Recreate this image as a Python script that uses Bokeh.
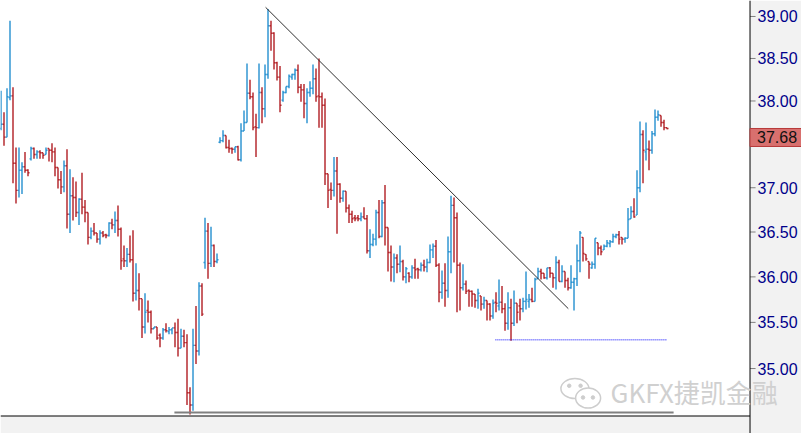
from bokeh.plotting import figure
from bokeh.models import Range1d, Label, BoxAnnotation, Span
from bokeh.core.properties import value
from bokeh.embed import file_html
from bokeh.resources import INLINE

# ---------------- data ----------------
open_ = [
37.68, 37.73, 37.58, 38.04, 38.06, 37.28, 36.97, 37.20, 37.24, 37.20,
37.33, 37.45, 37.38, 37.41, 37.40, 37.38, 37.45, 37.43, 37.41, 37.23,
37.09, 37.01, 37.25, 36.70, 36.91, 36.89, 36.72, 36.87, 36.78, 36.72,
36.44, 36.51, 36.49, 36.42, 36.49, 36.47, 36.46, 36.60, 36.58, 36.63,
36.53, 36.20, 36.18, 36.25, 36.19, 35.82, 35.85, 35.76, 35.45, 35.63,
35.61, 35.43, 35.45, 35.36, 35.33, 35.42, 35.40, 35.42, 35.44, 35.39,
35.22, 35.35, 35.28, 34.74, 34.61, 35.25, 35.19, 35.90, 36.16, 36.51,
36.15, 36.35, 36.17, 37.52, 37.54, 37.60, 37.46, 37.45, 37.44, 37.47,
37.32, 37.65, 37.75, 38.09, 38.05, 37.70, 37.69, 38.10, 37.91, 38.31,
38.89, 38.80, 38.45, 38.28, 38.01, 38.10, 38.17, 38.28, 38.31, 38.36,
38.16, 38.13, 37.97, 38.10, 38.15, 38.26, 38.06, 38.05, 37.95, 37.16,
36.98, 36.97, 37.19, 37.04, 36.88, 36.96, 36.77, 36.70, 36.66, 36.66,
36.65, 36.67, 36.65, 36.29, 36.36, 36.42, 36.72, 36.45, 36.83, 36.55,
36.27, 36.11, 36.21, 36.14, 36.17, 36.00, 36.04, 36.00, 36.10, 36.09,
36.08, 36.13, 36.11, 36.16, 36.30, 36.34, 36.13, 35.83, 35.93, 35.85,
36.28, 36.80, 36.66, 36.13, 35.88, 35.92, 35.85, 35.84, 35.81, 35.74,
35.79, 35.70, 35.74, 35.70, 35.57, 35.72, 35.68, 35.72, 35.65, 35.49,
35.66, 35.49, 35.71, 35.68, 35.65, 35.73, 35.73, 35.75, 35.73, 35.98,
36.06, 36.04, 35.99, 36.10, 36.04, 35.99, 36.16, 35.95, 36.06, 35.96,
35.88, 35.94, 35.98, 36.18, 36.44, 36.25, 36.17, 36.10, 36.14, 36.38,
36.32, 36.30, 36.34, 36.37, 36.39, 36.45, 36.47, 36.44, 36.42, 36.43,
36.65, 36.73, 36.69, 37.00, 37.61, 37.41, 37.44, 37.43, 37.62, 37.81,
37.83, 37.75, 37.69]

high = [
38.12, 37.87, 38.15, 38.95, 38.16, 37.46, 37.46, 37.29, 37.41, 37.21,
37.47, 37.46, 37.43, 37.43, 37.40, 37.46, 37.45, 37.51, 37.46, 37.23,
37.19, 37.31, 37.44, 37.21, 37.12, 37.07, 36.88, 37.17, 36.86, 36.72,
36.55, 36.60, 36.49, 36.52, 36.51, 36.48, 36.61, 36.65, 36.73, 36.80,
36.55, 36.35, 36.32, 36.46, 36.52, 36.15, 36.04, 35.76, 35.82, 35.74,
35.63, 35.45, 35.45, 35.38, 35.44, 35.49, 35.45, 35.44, 35.50, 35.54,
35.43, 35.42, 35.37, 34.80, 35.43, 35.68, 35.94, 35.93, 36.66, 36.60,
36.56, 36.36, 36.26, 37.58, 37.66, 37.60, 37.55, 37.46, 37.47, 37.48,
37.74, 37.89, 38.44, 38.25, 38.10, 37.85, 38.44, 38.16, 38.43, 39.09,
38.95, 38.81, 38.46, 38.41, 38.12, 38.17, 38.31, 38.32, 38.38, 38.43,
38.20, 38.20, 38.15, 38.23, 38.43, 38.38, 38.50, 38.10, 38.03, 37.16,
37.06, 37.35, 37.35, 37.05, 36.97, 36.96, 36.81, 36.74, 36.69, 36.69,
36.72, 36.78, 36.69, 36.53, 36.48, 36.75, 36.86, 36.86, 37.03, 36.55,
36.35, 36.26, 36.25, 36.35, 36.19, 36.11, 36.05, 36.13, 36.20, 36.10,
36.16, 36.19, 36.20, 36.36, 36.37, 36.41, 36.15, 36.07, 36.15, 36.45,
36.91, 36.89, 36.72, 36.16, 36.14, 35.96, 35.86, 35.85, 35.81, 35.87,
35.79, 35.78, 35.74, 35.71, 35.75, 35.83, 35.97, 35.90, 35.71, 35.83,
35.76, 35.85, 35.71, 35.76, 35.77, 36.06, 35.81, 35.88, 35.99, 36.10,
36.09, 36.04, 36.10, 36.11, 36.04, 36.23, 36.19, 36.13, 36.06, 35.99,
36.13, 35.99, 36.36, 36.51, 36.44, 36.25, 36.17, 36.17, 36.43, 36.38,
36.35, 36.36, 36.41, 36.41, 36.48, 36.48, 36.51, 36.44, 36.44, 36.77,
36.79, 36.88, 37.20, 37.76, 37.66, 37.75, 37.54, 37.65, 37.90, 37.89,
37.83, 37.78, 37.69]

low = [
37.66, 37.48, 37.58, 38.01, 37.05, 36.82, 36.89, 36.93, 37.17, 37.13,
37.31, 37.33, 37.33, 37.33, 37.33, 37.38, 37.30, 37.29, 37.13, 36.99,
36.93, 36.95, 36.54, 36.49, 36.63, 36.67, 36.58, 36.70, 36.61, 36.36,
36.42, 36.46, 36.38, 36.36, 36.44, 36.43, 36.45, 36.53, 36.49, 36.45,
36.08, 36.11, 36.11, 36.16, 35.73, 35.74, 35.63, 35.33, 35.38, 35.50,
35.38, 35.43, 35.31, 35.23, 35.31, 35.39, 35.37, 35.37, 35.23, 35.13,
35.22, 35.23, 34.61, 34.51, 34.55, 35.05, 35.14, 35.57, 36.09, 35.98,
36.11, 36.11, 36.15, 37.51, 37.52, 37.45, 37.40, 37.39, 37.40, 37.31,
37.30, 37.65, 37.75, 38.02, 37.66, 37.35, 37.68, 37.74, 37.81, 38.26,
38.59, 38.37, 38.24, 37.87, 37.99, 38.09, 38.15, 38.25, 38.25, 38.09,
37.99, 37.80, 37.74, 38.05, 38.08, 37.99, 37.69, 37.69, 37.03, 36.77,
36.86, 36.90, 36.48, 36.83, 36.84, 36.72, 36.60, 36.60, 36.62, 36.62,
36.62, 36.65, 36.26, 36.21, 36.34, 36.35, 36.43, 36.44, 36.35, 36.06,
35.95, 35.94, 36.04, 36.05, 35.96, 35.93, 35.94, 35.98, 35.98, 35.98,
36.06, 36.06, 36.05, 36.15, 36.21, 36.11, 35.72, 35.76, 35.67, 35.77,
36.04, 36.16, 35.61, 35.63, 35.85, 35.81, 35.67, 35.67, 35.66, 35.65,
35.63, 35.65, 35.52, 35.52, 35.54, 35.61, 35.63, 35.60, 35.41, 35.42,
35.30, 35.46, 35.49, 35.52, 35.61, 35.64, 35.66, 35.72, 35.73, 35.98,
35.97, 35.98, 35.97, 35.99, 35.88, 35.86, 35.95, 35.94, 35.88, 35.85,
35.87, 35.63, 35.90, 36.05, 36.17, 36.18, 35.98, 36.09, 36.09, 36.24,
36.24, 36.30, 36.33, 36.33, 36.38, 36.43, 36.36, 36.36, 36.38, 36.43,
36.65, 36.66, 36.69, 36.95, 37.05, 37.31, 37.20, 37.39, 37.59, 37.77,
37.70, 37.66, 37.67]

close = [
37.73, 37.58, 38.05, 38.06, 37.28, 36.97, 37.20, 37.24, 37.20, 37.17,
37.45, 37.38, 37.41, 37.40, 37.37, 37.43, 37.43, 37.41, 37.23, 37.09,
37.01, 37.25, 36.70, 36.91, 36.89, 36.72, 36.87, 36.78, 36.72, 36.44,
36.51, 36.49, 36.42, 36.49, 36.46, 36.46, 36.60, 36.58, 36.63, 36.53,
36.18, 36.18, 36.25, 36.19, 35.82, 35.85, 35.76, 35.45, 35.61, 35.61,
35.43, 35.45, 35.33, 35.33, 35.42, 35.41, 35.42, 35.44, 35.39, 35.22,
35.35, 35.28, 34.74, 34.61, 35.25, 35.19, 35.90, 35.59, 36.51, 36.15,
36.35, 36.17, 36.19, 37.54, 37.60, 37.46, 37.45, 37.44, 37.47, 37.32,
37.65, 37.75, 38.09, 38.05, 37.69, 37.69, 38.10, 37.91, 38.31, 38.89,
38.80, 38.45, 38.28, 37.95, 38.10, 38.17, 38.29, 38.31, 38.36, 38.16,
38.13, 37.97, 38.10, 38.15, 38.26, 38.05, 38.05, 37.95, 37.16, 36.97,
36.97, 37.19, 37.04, 36.88, 36.96, 36.77, 36.70, 36.65, 36.65, 36.65,
36.67, 36.65, 36.29, 36.36, 36.42, 36.72, 36.45, 36.83, 36.55, 36.27,
36.11, 36.21, 36.14, 36.17, 36.00, 36.09, 36.00, 36.10, 36.08, 36.08,
36.13, 36.11, 36.16, 36.30, 36.34, 36.13, 35.83, 35.93, 35.85, 36.28,
36.80, 36.66, 36.13, 35.88, 35.92, 35.84, 35.84, 35.81, 35.74, 35.82,
35.70, 35.74, 35.70, 35.57, 35.71, 35.71, 35.72, 35.65, 35.49, 35.66,
35.49, 35.71, 35.61, 35.65, 35.73, 35.75, 35.75, 35.73, 35.97, 36.06,
36.04, 35.99, 36.10, 36.04, 35.99, 36.16, 35.95, 36.06, 35.96, 35.88,
35.94, 35.98, 36.18, 36.49, 36.26, 36.20, 36.14, 36.14, 36.43, 36.32,
36.28, 36.34, 36.38, 36.39, 36.45, 36.47, 36.42, 36.42, 36.43, 36.64,
36.73, 36.67, 37.00, 37.61, 37.43, 37.44, 37.43, 37.62, 37.81, 37.84,
37.75, 37.69, 37.68]

y_ticks = [35.00, 35.50, 36.00, 36.50, 37.00, 38.00, 38.50, 39.00]
y_tick_labels = [f"{t:.2f}" for t in y_ticks]
last_price = 37.68

trend_x = [88.2, 189.1]          # bar index
trend_y = [39.11, 35.65]
support_x = [164.8, 222.1]
support_y = 35.31
base_x = [57.8, 224.2]
base_y = 34.53

watermark = "GKFX捷凯金融"

# ---------------- layout / styling ----------------
UP = "#2b93d1"
DOWN = "#b3242a"
AXIS_BG = "#f2f2f2"
X_MIN, X_MAX = -1/6, 266.83          # 3 px per bar over the whole 801 px canvas
Y_MIN, Y_MAX = 34.308, 39.192        # log price scale over the whole 433 px canvas
PRICE_EDGE = 249.67                  # price-scale strip starts here (bar units)
CHART_BOTTOM = 34.493                # lower edge of the chart area (price units)

n = len(close)
xs = list(range(n))
colors = [UP if c >= o else DOWN for o, c in zip(open_, close)]
tick = 0.5
bw = 1.45

p = figure(width=801, height=433,
           x_range=Range1d(X_MIN, X_MAX), y_range=Range1d(Y_MIN, Y_MAX),
           y_axis_type="log", x_axis_location=None, y_axis_location=None,
           output_backend="svg", toolbar_location=None,
           min_border=0, background_fill_color="white", border_fill_color="white",
           outline_line_color=None)
p.grid.visible = False

# price-scale strip and bottom strip
p.add_layout(BoxAnnotation(left=PRICE_EDGE, fill_color=AXIS_BG, fill_alpha=1,
                           line_color=None, level="underlay"))
p.add_layout(BoxAnnotation(top=CHART_BOTTOM, fill_color=AXIS_BG, fill_alpha=1,
                           line_color=None, level="underlay"))

# OHLC bars
p.segment(x0=xs, y0=low, x1=xs, y1=high, line_color=colors, line_width=bw)
p.segment(x0=[x - tick for x in xs], y0=open_, x1=xs, y1=open_, line_color=colors, line_width=bw)
p.segment(x0=xs, y0=close, x1=[x + tick for x in xs], y1=close, line_color=colors, line_width=bw)

# drawn lines
p.line(trend_x, trend_y, line_color="#2e2e2e", line_width=1)
p.line(support_x, [support_y, support_y], line_color="#0000ff", line_width=1, line_dash="1 1")
p.line(base_x, [base_y, base_y], line_color="#808080", line_width=2)

# price scale: axis line, ticks, labels
p.add_layout(Span(location=PRICE_EDGE, dimension="height", line_color="black", line_width=1))
p.line([X_MIN, PRICE_EDGE], [CHART_BOTTOM, CHART_BOTTOM], line_color="black", line_width=1)
p.segment(x0=[PRICE_EDGE] * len(y_ticks), x1=[PRICE_EDGE + 1.85] * len(y_ticks),
          y0=y_ticks, y1=y_ticks, line_color="#808080", line_width=1)
p.text(x=[PRICE_EDGE + 2.5] * len(y_ticks), y=y_ticks, text=y_tick_labels,
       text_font=value("Liberation Sans"), text_font_size=value("16px"),
       text_color="#00008b", text_baseline="middle", text_align="left")

# watermark (WeChat-like icon + text)
p.ellipse(x=[191.3], y=[34.785], width=28, height=20, width_units="screen", height_units="screen",
          fill_color="white", line_color="#cdcdcd", line_width=1.5)
p.ellipse(x=[195.7], y=[34.684], width=25, height=20, width_units="screen", height_units="screen",
          fill_color="white", line_color="#cdcdcd", line_width=1.5)
p.scatter(x=[189.4, 193.2, 194.0, 197.3], y=[34.815, 34.815, 34.69, 34.69], size=3.5,
          color="#cdcdcd")
p.add_layout(Label(x=203.2, y=34.753, text=watermark, text_font="Noto Sans CJK SC",
                   text_font_size="26px", text_color="#d0d0d0", text_baseline="middle",
                   text_align="left"))

# last price tag
p.add_layout(Label(x=PRICE_EDGE, y=last_price, text=f"{last_price:.2f}", text_font="Liberation Sans",
                   text_font_size="16px", text_color="#111111", text_baseline="top",
                   text_align="left", background_fill_color="#d8706e",
                   border_line_color="#b83a3a", padding=(7, 3)))

open("out.html", "w").write(file_html(p, INLINE))
